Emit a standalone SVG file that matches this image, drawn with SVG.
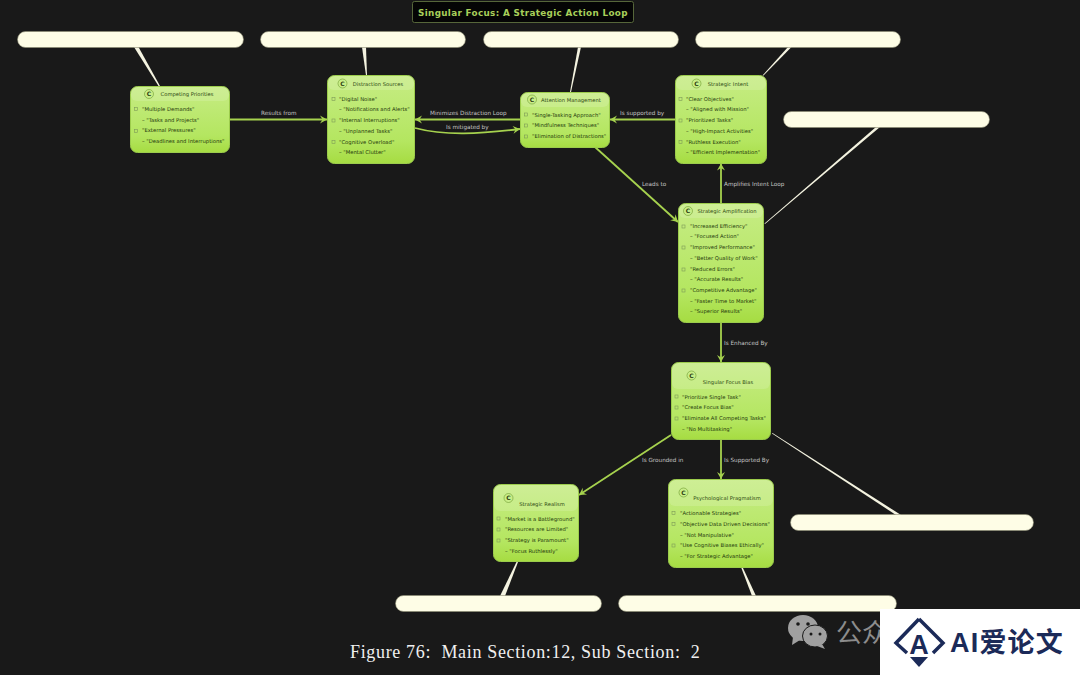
<svg xmlns="http://www.w3.org/2000/svg" width="1080" height="675" viewBox="0 0 1080 675">
<style>
text{font-family:"DejaVu Sans",sans-serif}
.n{fill:url(#g);stroke:#9ccc4c;stroke-width:1}
.h{fill:#fff;fill-opacity:.14}
.t{font-size:5.2px;fill:#2e4a12;text-anchor:middle}
.i{font-size:5.28px;fill:#24380c}
.b{fill:none;stroke:#7d9a58;stroke-width:.6}
.c{fill:#c8ee88;stroke:#6e9a30;stroke-width:.6}
.cl{font-size:6px;font-weight:bold;fill:#2a3a10;text-anchor:middle}
.l{font-size:5.7px;fill:#c4c4c4}
.e{fill:none;stroke:#a6d24e;stroke-width:1.8;marker-end:url(#arr)}
.note{fill:#fefde6;stroke:#8a8a70;stroke-width:.6}
.tail{fill:#f4f3e0;stroke:none}
</style>
<defs>
<linearGradient id="g" x1="0" y1="0" x2="0" y2="1"><stop offset="0" stop-color="#c6ec84"/><stop offset=".75" stop-color="#b4e660"/><stop offset="1" stop-color="#a6dc42"/></linearGradient>
<marker id="arr" markerUnits="userSpaceOnUse" markerWidth="10" markerHeight="10" refX="8" refY="5" orient="auto"><path d="M1 1L8 5L1 9L3.500 5Z" fill="#a6d24e"/></marker>
</defs>
<rect width="1080" height="675" fill="#191919"/>

<g id="connectors">
<path class="e" d="M230 119.500H327"/>
<text class="l" x="261" y="114.500">Results from</text>
<path class="e" d="M520 119.500H415"/>
<text class="l" x="430" y="114.500">Minimizes Distraction Loop</text>
<path class="e" d="M415 128C445 136 480 134 520 129"/>
<text class="l" x="446" y="129">Is mitigated by</text>
<path class="e" d="M675 119.500H610"/>
<text class="l" x="620" y="114.500">Is supported by</text>
<path class="e" d="M595 147L678 222"/>
<text class="l" x="642" y="185.500">Leads to</text>
<path class="e" d="M721 203V163.500"/>
<text class="l" x="724" y="185.500">Amplifies Intent Loop</text>
<path class="e" d="M721 323V362"/>
<text class="l" x="724" y="344.500">Is Enhanced By</text>
<path class="e" d="M721 440V479"/>
<text class="l" x="724" y="461.500">Is Supported By</text>
<path class="e" d="M671 435L579 495"/>
<text class="l" x="642" y="461.500">Is Grounded in</text>
</g>

<g id="title"><rect x="412.500" y="1.500" width="221" height="21" rx="2" fill="#050505" stroke="#56663a"/>
<text x="418" y="15.500" font-size="8.800" font-weight="bold" letter-spacing=".34" fill="#a8cf5a">Singular Focus: A Strategic Action Loop</text></g>

<g id="note1"><path class="tail" d="M134 47L138.500 47L160 86L158.500 86Z"/><rect class="note" x="17.500" y="31.500" width="226" height="16" rx="8"/></g>
<g id="note2"><path class="tail" d="M362 47L366 47L367 75.500L366 75.500Z"/><rect class="note" x="260.500" y="31.500" width="205" height="16" rx="8"/></g>
<g id="note3"><path class="tail" d="M578 47L581 47L571 92L570 92Z"/><rect class="note" x="483.500" y="31.500" width="195" height="16" rx="8"/></g>
<g id="note4"><path class="tail" d="M788 47L791.500 47L763.500 75.500L762.500 75.500Z"/><rect class="note" x="695.500" y="31.500" width="205" height="16" rx="8"/></g>
<g id="note5"><path class="tail" d="M876 127L880 127L765 224L764.500 223.500Z"/><rect class="note" x="783.500" y="111.500" width="206" height="16" rx="8"/></g>
<g id="note6"><path class="tail" d="M772 433.500L772.500 433L901 515L896 515Z"/><rect class="note" x="790.500" y="514.500" width="243" height="16" rx="8"/></g>
<g id="note7"><path class="tail" d="M516.500 562L518 562L505 596L500 596Z"/><rect class="note" x="395.500" y="595.500" width="206" height="16" rx="8"/></g>
<g id="note8"><path class="tail" d="M741 567L742.500 567L756 596L752 596Z"/><rect class="note" x="618.500" y="595.500" width="278" height="16" rx="8"/></g>

<g id="competing-priorities">
<rect class="n" x="130.500" y="86.500" width="99" height="66" rx="7"/><rect class="h" x="131" y="87" width="98" height="14" rx="6"/>
<circle class="c" cx="149" cy="94" r="4.500"/><text class="cl" x="149" y="96.200">C</text>
<text class="t" x="187" y="96">Competing Priorities</text>
<rect class="b" x="134.500" y="107.500" width="3" height="3"/><text class="i" x="142" y="111">"Multiple Demands"</text>
<text class="i" x="142" y="122">– "Tasks and Projects"</text>
<rect class="b" x="134.500" y="129.500" width="3" height="3"/><text class="i" x="142" y="132">"External Pressures"</text>
<text class="i" x="142" y="143">– "Deadlines and Interruptions"</text>
</g>

<g id="distraction-sources">
<rect class="n" x="327.500" y="75.500" width="87" height="88" rx="7"/><rect class="h" x="328" y="76" width="86" height="14" rx="6"/>
<circle class="c" cx="342.500" cy="83.500" r="4.500"/><text class="cl" x="342.500" y="85.700">C</text>
<text class="t" x="378" y="85.500">Distraction Sources</text>
<rect class="b" x="332" y="97.500" width="3" height="3"/><text class="i" x="339" y="100.500">"Digital Noise"</text>
<text class="i" x="339" y="111">– "Notifications and Alerts"</text>
<rect class="b" x="332" y="119" width="3" height="3"/><text class="i" x="339" y="122">"Internal Interruptions"</text>
<text class="i" x="339" y="132.500">– "Unplanned Tasks"</text>
<rect class="b" x="332" y="140.500" width="3" height="3"/><text class="i" x="339" y="143.500">"Cognitive Overload"</text>
<text class="i" x="339" y="154">– "Mental Clutter"</text>
</g>

<g id="attention-management">
<rect class="n" x="520.500" y="92.500" width="89" height="55" rx="7"/><rect class="h" x="521" y="93" width="88" height="14" rx="6"/>
<circle class="c" cx="532" cy="99.500" r="4.500"/><text class="cl" x="532" y="101.700">C</text>
<text class="t" x="571" y="101.500">Attention Management</text>
<rect class="b" x="524.500" y="113" width="3" height="3"/><text class="i" x="532" y="116.500">"Single-Tasking Approach"</text>
<rect class="b" x="524.500" y="124" width="3" height="3"/><text class="i" x="532" y="127">"Mindfulness Techniques"</text>
<rect class="b" x="524.500" y="135" width="3" height="3"/><text class="i" x="532" y="138">"Elimination of Distractions"</text>
</g>

<g id="strategic-intent">
<rect class="n" x="675.500" y="75.500" width="91" height="88" rx="7"/><rect class="h" x="676" y="76" width="90" height="14" rx="6"/>
<circle class="c" cx="696.500" cy="83.500" r="4.500"/><text class="cl" x="696.500" y="85.700">C</text>
<text class="t" x="728" y="85.500">Strategic Intent</text>
<rect class="b" x="679" y="97.500" width="3" height="3"/><text class="i" x="686" y="100.500">"Clear Objectives"</text>
<text class="i" x="686" y="111">– "Aligned with Mission"</text>
<rect class="b" x="679" y="119" width="3" height="3"/><text class="i" x="686" y="122">"Prioritized Tasks"</text>
<text class="i" x="686" y="132.500">–  "High-Impact Activities"</text>
<rect class="b" x="679" y="140.500" width="3" height="3"/><text class="i" x="686" y="143.500">"Ruthless Execution"</text>
<text class="i" x="686" y="154">–  "Efficient Implementation"</text>
</g>

<g id="strategic-amplification">
<rect class="n" x="678.500" y="203.500" width="85" height="119" rx="7"/><rect class="h" x="679" y="204" width="84" height="14" rx="6"/>
<circle class="c" cx="688" cy="211" r="4.500"/><text class="cl" x="688" y="213.200">C</text>
<text class="t" x="727" y="213">Strategic Amplification</text>
<rect class="b" x="682" y="225" width="3" height="3"/><text class="i" x="690" y="227.500">"Increased Efficiency"</text>
<text class="i" x="690" y="238">– "Focused Action"</text>
<rect class="b" x="682" y="246" width="3" height="3"/><text class="i" x="690" y="249">"Improved Performance"</text>
<text class="i" x="690" y="259.500">– "Better Quality of Work"</text>
<rect class="b" x="682" y="268" width="3" height="3"/><text class="i" x="690" y="270.500">"Reduced Errors"</text>
<text class="i" x="690" y="281">– "Accurate Results"</text>
<rect class="b" x="682" y="289" width="3" height="3"/><text class="i" x="690" y="292">"Competitive Advantage"</text>
<text class="i" x="690" y="302.500">–  "Faster Time to Market"</text>
<text class="i" x="690" y="313">– "Superior Results"</text>
</g>

<g id="singular-focus-bias">
<rect class="n" x="671.500" y="362.500" width="99" height="77" rx="7"/><rect class="h" x="672" y="363" width="98" height="26" rx="6"/>
<circle class="c" cx="691.500" cy="375.500" r="4.500"/><text class="cl" x="691.500" y="377.700">C</text>
<text class="t" x="728" y="383.500">Singular Focus Bias</text>
<rect class="b" x="675" y="395" width="3" height="3"/><text class="i" x="682" y="398.500">"Prioritize Single Task"</text>
<rect class="b" x="675" y="406" width="3" height="3"/><text class="i" x="682" y="409">"Create Focus Bias"</text>
<rect class="b" x="675" y="417" width="3" height="3"/><text class="i" x="682" y="419.500">"Eliminate All Competing Tasks"</text>
<text class="i" x="682" y="430.500">– "No Multitasking"</text>
</g>

<g id="psychological-pragmatism">
<rect class="n" x="668.500" y="479.500" width="105" height="88" rx="7"/><rect class="h" x="669" y="480" width="104" height="26" rx="6"/>
<circle class="c" cx="683.500" cy="492.500" r="4.500"/><text class="cl" x="683.500" y="494.700">C</text>
<text class="t" x="727" y="500">Psychological Pragmatism</text>
<rect class="b" x="672" y="511.500" width="3" height="3"/><text class="i" x="680" y="515">"Actionable Strategies"</text>
<rect class="b" x="672" y="522.500" width="3" height="3"/><text class="i" x="680" y="525.500">"Objective Data Driven Decisions"</text>
<text class="i" x="680" y="536.500">– "Not Manipulative"</text>
<rect class="b" x="672" y="544" width="3" height="3"/><text class="i" x="680" y="547">"Use Cognitive Biases Ethically"</text>
<text class="i" x="680" y="557.500">– "For Strategic Advantage"</text>
</g>

<g id="strategic-realism">
<rect class="n" x="493.500" y="484.500" width="85" height="77" rx="7"/><rect class="h" x="494" y="485" width="84" height="26" rx="6"/>
<circle class="c" cx="508.500" cy="498" r="4.500"/><text class="cl" x="508.500" y="500.200">C</text>
<text class="t" x="542" y="505.500">Strategic Realism</text>
<rect class="b" x="497" y="517" width="3" height="3"/><text class="i" x="505" y="520.500">"Market is a Battleground"</text>
<rect class="b" x="497" y="528" width="3" height="3"/><text class="i" x="505" y="531">"Resources are Limited"</text>
<rect class="b" x="497" y="539" width="3" height="3"/><text class="i" x="505" y="541.500">"Strategy is Paramount"</text>
<text class="i" x="505" y="552.500">–  "Focus Ruthlessly"</text>
</g>

<text x="350" y="657.500" font-size="18" letter-spacing=".66" fill="#f0f0f0" xml:space="preserve" style="font-family:'Liberation Serif',serif;white-space:pre">Figure 76:  Main Section:12, Sub Section:  2</text>

<g id="watermark">
<ellipse cx="803" cy="628" rx="15" ry="13" fill="#a0a0a0"/><path d="M793 637L792 645L800 640Z" fill="#a0a0a0"/>
<ellipse cx="815" cy="636" rx="12.500" ry="11" fill="#a0a0a0" stroke="#191919"/><path d="M822 644L825 649L817 646Z" fill="#a0a0a0"/>
<circle cx="798" cy="624" r="1.800" fill="#191919"/><circle cx="808" cy="624" r="1.800" fill="#191919"/><circle cx="811" cy="634" r="1.500" fill="#191919"/><circle cx="820" cy="634" r="1.500" fill="#191919"/>
<text x="836" y="642" font-size="26" fill="#8c8c8c" style="font-family:'Noto Sans CJK SC',sans-serif">公众</text>
<rect x="880" y="609" width="200" height="66" fill="#fff"/>
<path d="M919 619L943 643L933 653M907 653L896 643L919 619" fill="none" stroke="#1b2a58" stroke-width="3.500"/>
<path d="M910 657L919 667L928 657Z" fill="#1b2a58"/>
<text x="919" y="654" font-size="27" font-weight="bold" text-anchor="middle" fill="#1b2a58" style="font-family:'Liberation Sans',sans-serif">A</text>
<text x="950" y="652" font-size="27" font-weight="bold" letter-spacing="1.200" fill="#1b2a58" style="font-family:'Liberation Sans','Noto Sans CJK SC',sans-serif">AI爱论文</text>
</g>
</svg>
